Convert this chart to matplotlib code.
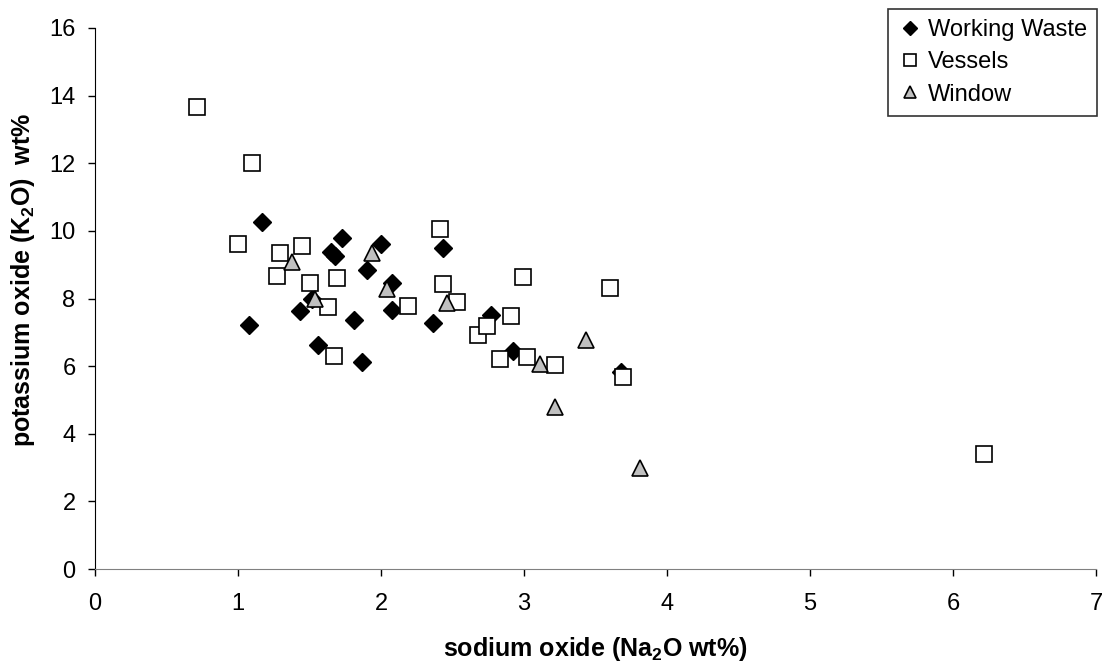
import matplotlib.pyplot as plt

plt.rcParams['font.family'] = ['Liberation Sans', 'DejaVu Sans']
plt.rcParams['mathtext.default'] = 'regular'

# sodium oxide (x) and potassium oxide (y), wt%
waste_na = [1.08, 1.17, 1.43, 1.52, 1.56, 1.65, 1.68, 1.73, 1.81, 1.87, 1.90,
            2.00, 2.08, 2.08, 2.36, 2.43, 2.77, 2.92, 3.68]
waste_k = [7.22, 10.27, 7.63, 8.00, 6.63, 9.38, 9.26, 9.79, 7.37, 6.12, 8.85,
           9.60, 8.45, 7.66, 7.28, 9.48, 7.50, 6.45, 5.83]

vessel_na = [0.71, 1.00, 1.10, 1.27, 1.29, 1.45, 1.50, 1.63, 1.67, 1.69,
             2.19, 2.41, 2.43, 2.53, 2.68, 2.74, 2.83, 2.91, 2.99, 3.02,
             3.22, 3.60, 3.69, 6.22]
vessel_k = [13.67, 9.60, 12.00, 8.67, 9.35, 9.55, 8.46, 7.75, 6.30, 8.60,
            7.78, 10.06, 8.43, 7.90, 6.92, 7.19, 6.21, 7.49, 8.64, 6.27,
            6.04, 8.31, 5.68, 3.40]

window_na = [1.38, 1.54, 1.94, 2.04, 2.46, 3.11, 3.22, 3.43, 3.81]
window_k = [9.08, 7.99, 9.35, 8.28, 7.87, 6.06, 4.80, 6.77, 2.98]

fig = plt.figure(figsize=(11.13, 6.66), dpi=100)
ax = fig.add_axes([0.0854, 0.1456, 0.8993, 0.8124])

ax.plot(waste_na, waste_k, 'D', color='black', markersize=9,
        markeredgecolor='black', label='Working Waste')
ax.plot(vessel_na, vessel_k, 's', markerfacecolor='white', markersize=11,
        markeredgecolor='black', markeredgewidth=1.2, label='Vessels')
ax.plot(window_na, window_k, '^', markerfacecolor='#c0c0c0', markersize=11.5,
        markeredgecolor='black', markeredgewidth=1.2, label='Window')

ax.set_xlim(0, 7)
ax.set_ylim(0, 16)
ax.set_xticks(range(0, 8))
ax.set_yticks(range(0, 17, 2))
ax.tick_params(labelsize=17, length=5, width=1, colors='black')
ax.tick_params(axis='x', pad=12)
ax.tick_params(axis='y', pad=9)

ax.spines['top'].set_visible(False)
ax.spines['right'].set_visible(False)
ax.spines['bottom'].set_color('#808080')
ax.spines['left'].set_color('black')

ax.set_xlabel('sodium oxide (Na$_2$O wt%)', fontsize=18, fontweight='bold')
ax.set_ylabel('potassium oxide (K$_2$O)  wt%', fontsize=18, fontweight='bold')
ax.xaxis.set_label_coords(0.5, -0.122)
ax.yaxis.set_label_coords(-0.058, 0.534)

leg = ax.legend(loc='upper right', bbox_to_anchor=(1.001, 1.035),
                borderaxespad=0, fontsize=17, frameon=True, fancybox=False,
                edgecolor='black', handlelength=1.0, handletextpad=0.25,
                borderpad=0.42, labelspacing=0.44, markerscale=0.8)
leg.get_frame().set_linewidth(1.2)

plt.savefig('out.png', dpi=100)
